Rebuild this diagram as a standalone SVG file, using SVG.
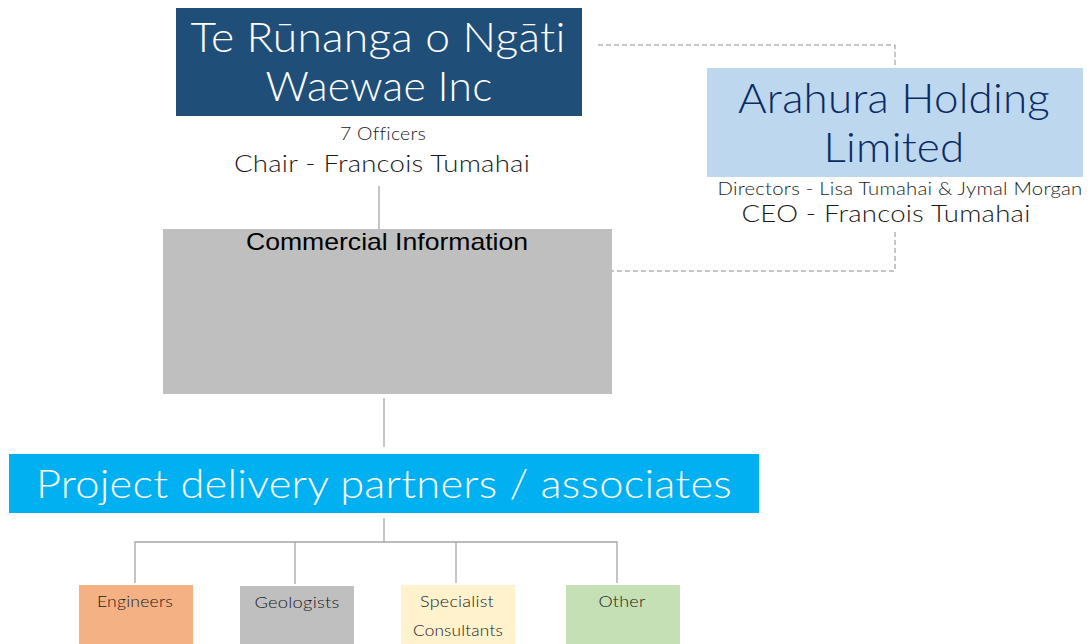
<svg xmlns="http://www.w3.org/2000/svg" width="1090" height="644" viewBox="0 0 1090 644">
<style>
.t{font-family:Lato,"Noto Sans","Liberation Sans",sans-serif;font-weight:300;text-anchor:middle;font-variant-ligatures:none;font-feature-settings:"liga" 0,"dlig" 0,"clig" 0;letter-spacing:0.2px}
.w{fill:#ffffff}
.k{fill:#1a1a1a}
.n{fill:#0b2a63}
.solid{stroke:#a6a6a6;stroke-width:1.3;fill:none}
.dash{stroke:#8c8c8c;stroke-width:1;fill:none;stroke-dasharray:5,3}
</style>
<rect width="1090" height="644" fill="#ffffff"/>
<g id="connectors">
<line class="solid" x1="379" y1="186" x2="379" y2="229"/>
<line class="solid" x1="384" y1="398" x2="384" y2="447"/>
<line class="solid" x1="384" y1="518" x2="384" y2="542"/>
<polyline class="solid" points="135,583 135,542 617,542 617,583"/>
<line class="solid" x1="295" y1="542" x2="295" y2="584"/>
<line class="solid" x1="456" y1="542" x2="456" y2="583"/>
<polyline class="dash" points="598,45 895,45 895,68"/>
<polyline class="dash" points="895,232 895,271 612,271"/>
</g>
<g id="runanga">
<rect x="176" y="8" width="406" height="108" fill="#1f4e79"/>
<text class="t w" x="378" y="52" font-size="41" textLength="375" lengthAdjust="spacingAndGlyphs">Te Rūnanga o Ngāti</text>
<text class="t w" x="379" y="101" font-size="41" textLength="227" lengthAdjust="spacingAndGlyphs">Waewae Inc</text>
<text class="t k" x="383" y="140" font-size="18" textLength="86" lengthAdjust="spacingAndGlyphs">7 Officers</text>
<text class="t k" x="382" y="172" font-size="24" textLength="296" lengthAdjust="spacingAndGlyphs">Chair - Francois Tumahai</text>
</g>
<g id="arahura">
<rect x="707" y="68" width="376" height="109" fill="#bdd7ee"/>
<text class="t n" x="894" y="113" font-size="41" textLength="312" lengthAdjust="spacingAndGlyphs">Arahura Holding</text>
<text class="t n" x="894" y="162" font-size="41" textLength="141" lengthAdjust="spacingAndGlyphs">Limited</text>
<text class="t k" x="900" y="195" font-size="17" textLength="365" lengthAdjust="spacingAndGlyphs">Directors - Lisa Tumahai &amp; Jymal Morgan</text>
<text class="t k" x="886" y="222" font-size="24" textLength="289" lengthAdjust="spacingAndGlyphs">CEO - Francois Tumahai</text>
</g>
<g id="commercial">
<rect x="163" y="229" width="449" height="165" fill="#bfbfbf"/>
<text x="387" y="250" font-size="24" font-family="'Liberation Sans',Arial,sans-serif" text-anchor="middle" fill="#000000" textLength="282" lengthAdjust="spacingAndGlyphs">Commercial Information</text>
</g>
<g id="partners">
<rect x="9" y="454" width="750" height="59" fill="#00b0f0"/>
<text class="t w" x="384" y="498" font-size="39" textLength="696" lengthAdjust="spacingAndGlyphs">Project delivery partners / associates</text>
</g>
<g id="engineers">
<rect x="79" y="585" width="114" height="59" fill="#f4b183"/>
<text class="t k" x="135" y="607" font-size="16" textLength="76" lengthAdjust="spacingAndGlyphs">Engineers</text>
</g>
<g id="geologists">
<rect x="240" y="586" width="114" height="58" fill="#bfbfbf"/>
<text class="t k" x="297" y="608" font-size="16" textLength="85" lengthAdjust="spacingAndGlyphs">Geologists</text>
</g>
<g id="specialist">
<rect x="401" y="585" width="114" height="59" fill="#fff2cc"/>
<text class="t k" x="457" y="607" font-size="16" textLength="74" lengthAdjust="spacingAndGlyphs">Specialist</text>
<text class="t k" x="458" y="636" font-size="16" textLength="90" lengthAdjust="spacingAndGlyphs">Consultants</text>
</g>
<g id="other">
<rect x="566" y="585" width="114" height="59" fill="#c5e0b4"/>
<text class="t k" x="622" y="607" font-size="16" textLength="47" lengthAdjust="spacingAndGlyphs">Other</text>
</g>
</svg>
